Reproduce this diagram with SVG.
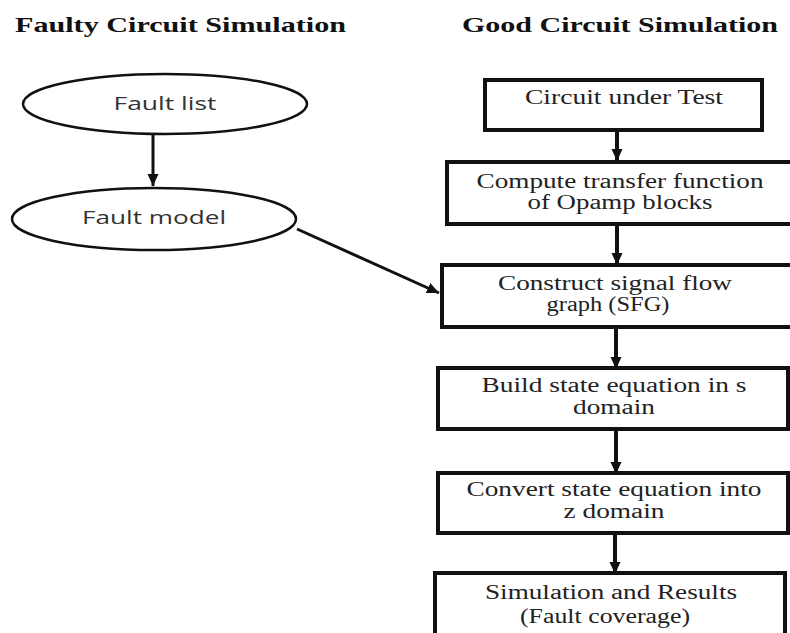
<svg xmlns="http://www.w3.org/2000/svg" width="790" height="633" viewBox="0 0 790 633">
<style>
.title{font-family:"Times New Roman","Liberation Serif",Times,serif;font-weight:bold;font-size:22px;fill:#111}
.ell{fill:#fff;stroke:#111;stroke-width:2.5}
.box{fill:#fff;stroke:#111;stroke-width:4}
.st{font-family:"Times New Roman","Liberation Serif",Times,serif;font-size:20px;fill:#222;text-anchor:middle}
.ss{font-family:"Open Sans","Liberation Sans",sans-serif;font-size:19px;fill:#333;text-anchor:middle}
.con{stroke:#111;fill:none}
</style>
<defs>
<marker id="ah" markerUnits="userSpaceOnUse" markerWidth="14" markerHeight="14" viewBox="0 0 14 14" refX="12" refY="7" orient="auto">
<path d="M0,1.5 L12,7 L0,12.5 Z" fill="#111"/>
</marker>
</defs>
<text class="title" x="15" y="32" textLength="331" lengthAdjust="spacingAndGlyphs">Faulty Circuit Simulation</text>
<text class="title" x="462" y="32" textLength="316" lengthAdjust="spacingAndGlyphs">Good Circuit Simulation</text>
<g id="connectors">
<line class="con" stroke-width="3" x1="153" y1="134" x2="153" y2="186" marker-end="url(#ah)"/>
<line class="con" stroke-width="3" x1="297" y1="229" x2="439" y2="293" marker-end="url(#ah)"/>
<line class="con" stroke-width="4" x1="617" y1="130" x2="617" y2="161" marker-end="url(#ah)"/>
<line class="con" stroke-width="4" x1="617" y1="224" x2="617" y2="265" marker-end="url(#ah)"/>
<line class="con" stroke-width="4" x1="616" y1="327" x2="616" y2="369" marker-end="url(#ah)"/>
<line class="con" stroke-width="4" x1="616" y1="429" x2="616" y2="474" marker-end="url(#ah)"/>
<line class="con" stroke-width="4" x1="615" y1="533" x2="615" y2="574" marker-end="url(#ah)"/>
</g>
<g id="fault-list">
<ellipse class="ell" cx="165" cy="104" rx="142" ry="30"/>
<text class="ss" x="165" y="110" textLength="103" lengthAdjust="spacingAndGlyphs">Fault list</text>
</g>
<g id="fault-model">
<ellipse class="ell" cx="154" cy="219" rx="142" ry="31"/>
<text class="ss" x="154" y="224" textLength="144" lengthAdjust="spacingAndGlyphs">Fault model</text>
</g>
<g id="circuit-under-test">
<rect class="box" x="485" y="80" width="277" height="50"/>
<text class="st" x="624" y="104" textLength="198" lengthAdjust="spacingAndGlyphs">Circuit under Test</text>
</g>
<g id="compute-transfer">
<rect class="box" x="447" y="162" width="345" height="62"/>
<text class="st" x="620" y="188" textLength="287" lengthAdjust="spacingAndGlyphs">Compute transfer function</text>
<text class="st" x="620" y="209" textLength="185" lengthAdjust="spacingAndGlyphs">of Opamp blocks</text>
</g>
<g id="construct-sfg">
<rect class="box" x="442" y="265" width="350" height="62"/>
<text class="st" x="615" y="290" textLength="234" lengthAdjust="spacingAndGlyphs">Construct signal flow</text>
<text class="st" x="608" y="311" textLength="123" lengthAdjust="spacingAndGlyphs">graph (SFG)</text>
</g>
<g id="build-state">
<rect class="box" x="438" y="368" width="350" height="61"/>
<text class="st" x="614" y="392" textLength="265" lengthAdjust="spacingAndGlyphs">Build state equation in s</text>
<text class="st" x="614" y="414" textLength="82" lengthAdjust="spacingAndGlyphs">domain</text>
</g>
<g id="convert-state">
<rect class="box" x="438" y="473" width="350" height="60"/>
<text class="st" x="614" y="496" textLength="295" lengthAdjust="spacingAndGlyphs">Convert state equation into</text>
<text class="st" x="614" y="518" textLength="101" lengthAdjust="spacingAndGlyphs">z domain</text>
</g>
<g id="simulation-results">
<rect class="box" x="435" y="573" width="350" height="80" stroke-width="5"/>
<text class="st" x="611" y="599" textLength="252" lengthAdjust="spacingAndGlyphs">Simulation and Results</text>
<text class="st" x="605" y="623" textLength="170" lengthAdjust="spacingAndGlyphs">(Fault coverage)</text>
</g>
</svg>
